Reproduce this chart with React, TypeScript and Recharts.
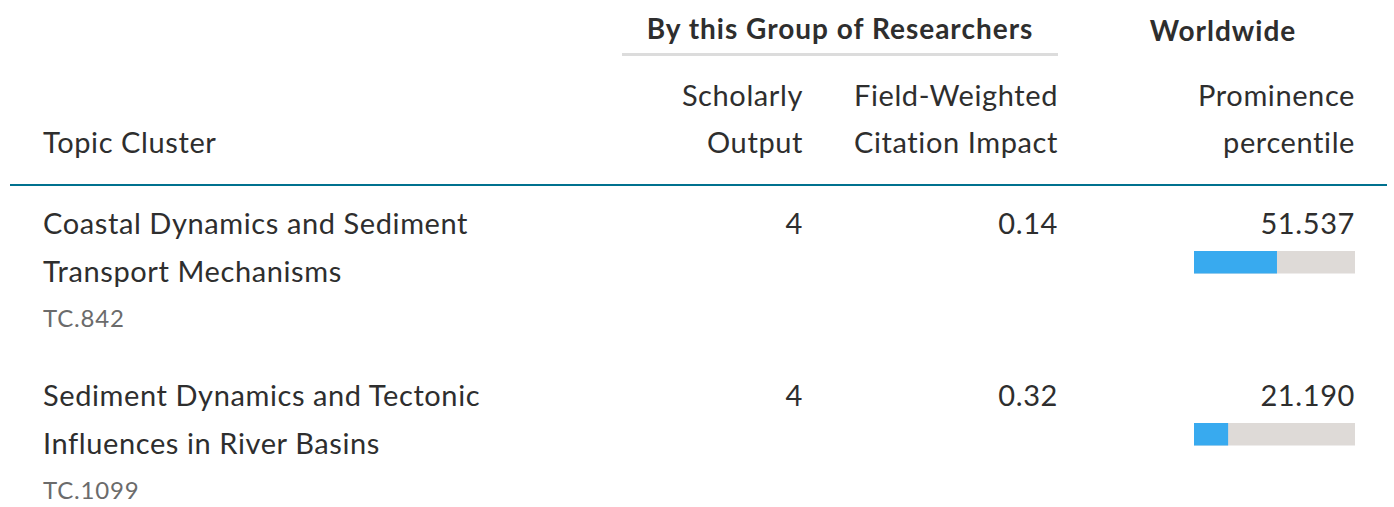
import React from 'react'
import { BarChart, Bar, XAxis, YAxis } from 'recharts'

const topics = [
  'Coastal Dynamics and Sediment Transport Mechanisms',
  'Sediment Dynamics and Tectonic Influences in River Basins',
]
const topicCodes = ['TC.842', 'TC.1099']
const scholarlyOutput = [4, 4]
const fwci = ['0.14', '0.32']
const prominence = [51.537, 21.19]

const FONT = 'Lato, "Open Sans", sans-serif'
const TEXT = '#2e2e2e'

function PercentileBar({ value }: { value: number }) {
  const data = [{ name: 'p', value }]
  return (
    <BarChart
      width={161}
      height={25}
      data={data}
      layout="vertical"
      margin={{ top: 0, right: 0, bottom: 0, left: 0 }}
      barCategoryGap={0}
    >
      <XAxis type="number" domain={[0, 100]} hide />
      <YAxis type="category" dataKey="name" hide />
      <Bar
        dataKey="value"
        fill="#38aaef"
        background={{ fill: '#dedad7' }}
        barSize={25}
        isAnimationActive={false}
      />
    </BarChart>
  )
}

function Txt({
  x,
  y,
  children,
  align = 'left',
  size = 29,
  weight = 400,
  color = TEXT,
  width = 400,
  spacing = 0.6,
}: {
  x: number
  y: number
  children: React.ReactNode
  align?: 'left' | 'right' | 'center'
  size?: number
  weight?: number
  color?: string
  width?: number
  spacing?: number
}) {
  const lh = 48
  const left = align === 'left' ? x : align === 'right' ? x - width : x - width / 2
  return (
    <div
      style={{
        position: 'absolute',
        left,
        top: y - lh / 2,
        width,
        lineHeight: `${lh}px`,
        fontSize: size,
        fontWeight: weight,
        color,
        textAlign: align,
        whiteSpace: 'nowrap',
        letterSpacing: spacing,
      }}
    >
      {children}
    </div>
  )
}

export default function App() {
  const rowTop = 223
  const rowStep = 172
  return (
    <div
      style={{
        position: 'absolute',
        left: 0,
        top: 0,
        width: 1394,
        height: 507,
        background: '#fff',
        fontFamily: FONT,
        overflow: 'hidden',
      }}
    >
      <Txt x={840} y={28} align="center" size={28} weight={700} width={460} spacing={1}>
        By this Group of Researchers
      </Txt>
      <div style={{ position: 'absolute', left: 622, top: 53, width: 436, height: 3, background: '#dcdcdc' }} />
      <Txt x={1223} y={30} align="center" size={28} weight={700} width={300} spacing={1}>
        Worldwide
      </Txt>

      <Txt x={43} y={142}>Topic Cluster</Txt>
      <Txt x={803} y={95} align="right">Scholarly</Txt>
      <Txt x={803} y={142} align="right">Output</Txt>
      <Txt x={1058} y={95} align="right">Field-Weighted</Txt>
      <Txt x={1058} y={142} align="right">Citation Impact</Txt>
      <Txt x={1355} y={95} align="right">Prominence</Txt>
      <Txt x={1355} y={142} align="right">percentile</Txt>

      <div style={{ position: 'absolute', left: 10, top: 184, width: 1377, height: 2, background: '#00718f' }} />

      {topics.map((t, i) => {
        const y = rowTop + i * rowStep
        return (
          <React.Fragment key={topicCodes[i]}>
            <div
              style={{
                position: 'absolute',
                left: 43,
                top: y - 24,
                width: 480,
                lineHeight: '48px',
                fontSize: 29,
                letterSpacing: 0.6,
                color: TEXT,
              }}
            >
              {t}
            </div>
            <Txt x={43} y={y + 95} size={24} spacing={0.8} color="#6b6b6b">
              {topicCodes[i]}
            </Txt>
            <Txt x={803} y={y} align="right">{scholarlyOutput[i]}</Txt>
            <Txt x={1058} y={y} align="right">{fwci[i]}</Txt>
            <Txt x={1355} y={y} align="right">{prominence[i].toFixed(3)}</Txt>
            <div style={{ position: 'absolute', left: 1194, top: y + 27 }}>
              <PercentileBar value={prominence[i]} />
            </div>
          </React.Fragment>
        )
      })}
    </div>
  )
}
